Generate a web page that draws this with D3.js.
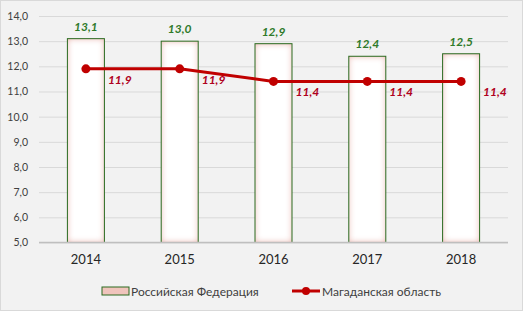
<!DOCTYPE html>
<html>
<head>
<meta charset="utf-8">
<script src="https://cdn.jsdelivr.net/npm/d3@7"></script>
<style>
  body { margin: 0; background: #fff; }
  svg { display: block; font-family: Lato, "Open Sans", sans-serif; }
</style>
</head>
<body>
<svg id="chart" width="523" height="311"></svg>
<script>
// данные
const years = ["2014", "2015", "2016", "2017", "2018"];
const russia = [13.1, 13.0, 12.9, 12.4, 12.5];
const magadan = [11.9, 11.9, 11.4, 11.4, 11.4];
const yTicks = [5, 6, 7, 8, 9, 10, 11, 12, 13, 14];
const seriesNames = ["Российская Федерация", "Магаданская область"];

const svg = d3.select("#chart");
const W = 523, H = 311;
const fmt = v => d3.format(".1f")(v).replace(".", ",");

// фон
svg.append("rect")
    .attr("x", 0.5).attr("y", 0.5)
    .attr("width", W - 1).attr("height", H - 1)
    .attr("fill", "#f2f2f2")
    .attr("stroke", "#d9d9d9");

// внутреннее свечение столбцов
const defs = svg.append("defs");
const f = defs.append("filter").attr("id", "glow")
    .attr("x", "-10%").attr("y", "-10%").attr("width", "120%").attr("height", "120%");
f.append("feFlood").attr("flood-color", "#e8a095").attr("result", "c");
f.append("feComposite").attr("in", "c").attr("in2", "SourceAlpha").attr("operator", "out").attr("result", "o");
f.append("feGaussianBlur").attr("in", "o").attr("stdDeviation", 3).attr("result", "b");
f.append("feComposite").attr("in", "b").attr("in2", "SourceAlpha").attr("operator", "in").attr("result", "i");
const fm = f.append("feMerge");
fm.append("feMergeNode").attr("in", "SourceGraphic");
fm.append("feMergeNode").attr("in", "i");

const x = d3.scaleBand().domain(years).range([39, 508]).paddingInner(0.6).paddingOuter(0.3);
const y = d3.scaleLinear().domain([5, 14]).range([242.5, 16]);

// сетка
svg.append("g")
    .attr("transform", "translate(39,0)")
    .call(d3.axisLeft(y).tickValues(yTicks).tickSize(-469).tickFormat(""))
    .call(g => g.select(".domain").remove())
    .call(g => g.selectAll("line").attr("stroke", "#d9d9d9"));

// подписи оси Y
svg.append("g")
    .attr("transform", "translate(39,0)")
    .call(d3.axisLeft(y).tickValues(yTicks).tickSize(0).tickPadding(11).tickFormat(fmt))
    .call(g => g.select(".domain").remove())
    .call(g => g.selectAll("text").attr("font-size", "10.5px").attr("fill", "#404040")
        .attr("font-family", "Lato, sans-serif"));

// столбцы
const bw = 37;
const bx = i => x(years[i]) + x.bandwidth() / 2 - bw / 2;
const bars = svg.append("g");
bars.selectAll("rect.fill")
    .data(russia)
    .join("rect")
    .attr("class", "fill")
    .attr("x", (d, i) => bx(i))
    .attr("y", d => y(d))
    .attr("width", bw)
    .attr("height", d => y(5) - y(d))
    .attr("fill", "#ffffff")
    .attr("filter", "url(#glow)");
bars.selectAll("rect.edge")
    .data(russia)
    .join("rect")
    .attr("class", "edge")
    .attr("x", (d, i) => bx(i))
    .attr("y", d => y(d))
    .attr("width", bw)
    .attr("height", d => y(5) - y(d))
    .attr("fill", "none")
    .attr("stroke", "#2a6a1f")
    .attr("stroke-width", 1);

// ось X
svg.append("line")
    .attr("x1", 39).attr("x2", 508)
    .attr("y1", y(5)).attr("y2", y(5))
    .attr("stroke", "#bfbfbf").attr("stroke-width", 1.5);

svg.append("g")
    .attr("transform", `translate(0,${y(5)})`)
    .call(d3.axisBottom(x).tickSize(0).tickPadding(12))
    .call(g => g.select(".domain").remove())
    .call(g => g.selectAll("text").attr("font-size", "13px").attr("fill", "#262626")
        .attr("font-family", "Lato, sans-serif"));

const cx = i => x(years[i]) + x.bandwidth() / 2;

// подписи столбцов
svg.append("g").selectAll("text")
    .data(russia)
    .join("text")
    .attr("x", (d, i) => cx(i))
    .attr("y", d => y(d) - 8)
    .attr("text-anchor", "middle")
    .attr("font-size", "12px")
    .attr("font-weight", "bold")
    .attr("font-style", "italic")
    .attr("fill", "#2f7a2a")
    .text(fmt);

// линия
svg.append("path")
    .datum(magadan)
    .attr("fill", "none")
    .attr("stroke", "#c00000")
    .attr("stroke-width", 3)
    .attr("d", d3.line().x((d, i) => cx(i)).y(d => y(d)));

svg.append("g").selectAll("circle")
    .data(magadan)
    .join("circle")
    .attr("cx", (d, i) => cx(i))
    .attr("cy", d => y(d))
    .attr("r", 4.5)
    .attr("fill", "#c00000");

svg.append("g").selectAll("text")
    .data(magadan)
    .join("text")
    .attr("x", (d, i) => cx(i) + 22)
    .attr("y", d => y(d) + 15)
    .attr("font-size", "12px")
    .attr("font-weight", "bold")
    .attr("font-style", "italic")
    .attr("fill", "#b00020")
    .text(fmt);

// легенда
const lg = svg.append("g").attr("font-size", "12px").attr("fill", "#404040");
lg.append("rect")
    .attr("x", 102).attr("y", 287)
    .attr("width", 27).attr("height", 8)
    .attr("fill", "#f0c4bc")
    .attr("stroke", "#2a6a1f");
lg.append("text").attr("x", 131).attr("y", 295.5).text(seriesNames[0]);
lg.append("line")
    .attr("x1", 292).attr("x2", 320).attr("y1", 291).attr("y2", 291)
    .attr("stroke", "#c00000").attr("stroke-width", 3);
lg.append("circle").attr("cx", 306).attr("cy", 291).attr("r", 4).attr("fill", "#c00000");
lg.append("text").attr("x", 322).attr("y", 295.5).text(seriesNames[1]);
</script>
</body>
</html>
